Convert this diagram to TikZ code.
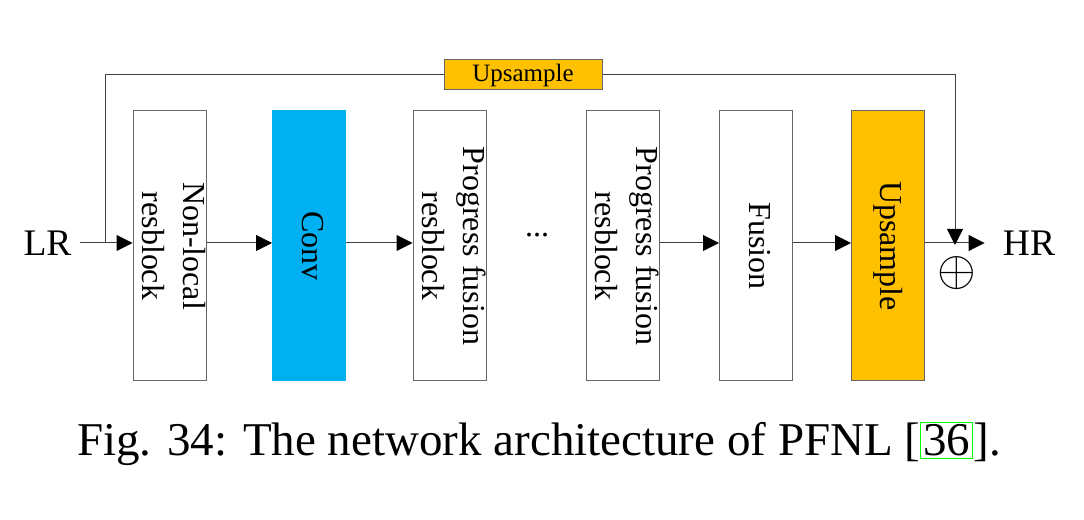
\documentclass[tikz,border=0pt]{standalone}
\usepackage{fontspec}
\setmainfont{Liberation Serif}
\usetikzlibrary{arrows.meta}

\definecolor{convblue}{RGB}{0,176,240}
\definecolor{upyellow}{RGB}{255,192,0}
\definecolor{linegray}{RGB}{64,64,64}
\definecolor{refgreen}{RGB}{0,255,0}

\newcommand{\refbox}[1]{{\setlength{\fboxsep}{1pt}\setlength{\fboxrule}{0.5pt}\fcolorbox{refgreen}{white}{#1}}}

\begin{document}
\begin{tikzpicture}[
    x=0.5pt, y=0.5pt,
    block/.style={rectangle, draw=black!60, line width=0.5pt, minimum width=36.5pt, minimum height=135pt, inner sep=0pt},
    blocktext/.style={rotate=-90, align=center, font=\fontsize{16}{20.5}\selectfont, inner sep=0pt},
    wire/.style={draw=linegray, line width=0.5pt},
    arrow/.style={wire, -{Triangle[length=8pt, width=8pt, color=black]}},
    io/.style={font=\fontsize{18.75}{22}\selectfont, inner sep=0pt}
]
\useasboundingbox (0,0) rectangle (1084,520);

% Input / output
\node[io] (lr) at (47.5,277) {LR};
\node[io] (hr) at (1029,277) {HR};

%==============================================================================
% Main blocks
%==============================================================================
\node[block] (nl) at (169.5,274) {};
\node[blocktext] (nltext) at ([xshift=2.25pt]nl.center) {Non-local\\resblock};

\node[block, draw=convblue, fill=convblue] (conv) at (309,274) {};
\node[blocktext] (convtext) at ([xshift=2pt]conv.center) {Conv};

\node[block] (pfa) at (449.5,274) {};
\node[blocktext] (pfatext) at ([xshift=2.25pt]pfa.center) {Progress fusion\\resblock};

\node[font=\fontsize{16}{19}\selectfont, inner sep=0pt] (dots) at (537,285) {...};

\node[block] (pfb) at (623,274) {};
\node[blocktext] (pfbtext) at ([xshift=2.25pt]pfb.center) {Progress fusion\\resblock};

\node[block] (fu) at (756,274) {};
\node[blocktext] (futext) at ([xshift=2pt]fu.center) {Fusion};

\node[block, fill=upyellow] (up) at (888,274) {};
\node[blocktext] (uptext) at (up) {Upsample};

% Arrows along the main path
\draw[arrow, shorten <=4pt] (lr.east) -- (nl.west |- lr);
\draw[arrow] (nl.east |- lr) -- (conv.west |- lr);
\draw[arrow] (conv.east |- lr) -- (pfa.west |- lr);
\draw[arrow] (pfb.east |- lr) -- (fu.west |- lr);
\draw[arrow] (fu.east |- lr) -- (up.west |- lr);
\draw[arrow, shorten >=9pt] (up.east |- lr) -- (hr.west);

%==============================================================================
% Global skip with upsampling
%==============================================================================
\node[draw=black!60, fill=upyellow, line width=0.5pt, minimum width=79pt, minimum height=15pt,
      inner sep=0pt, font=\fontsize{12.5}{15}\selectfont] (ups) at (523,445) {Upsample};
\coordinate (skipin) at (105,277);
\coordinate (skipout) at (955,275);
\node[font=\fontsize{24.5}{28}\selectfont, inner sep=0pt] (plus) at (957,247) {$\oplus$};

\draw[wire] (skipin) |- (ups.west);
\draw[arrow] (ups.east) -| (skipout);

% Caption
\node[font=\fontsize{23.5}{28}\selectfont, inner sep=0pt] (caption) at (539,76)
    {Fig. 34: The network architecture of PFNL [\refbox{36}].};

\end{tikzpicture}
\end{document}
